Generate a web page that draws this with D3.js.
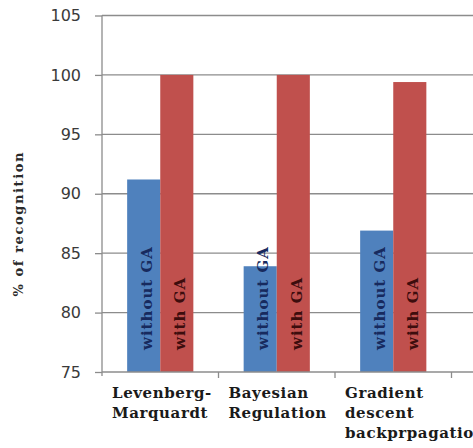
<!DOCTYPE html>
<html>
<head>
<meta charset="utf-8">
<script src="https://cdn.jsdelivr.net/npm/d3@7/dist/d3.min.js"></script>
<style>
  html, body { margin: 0; padding: 0; background: #fff; }
  svg { display: block; }
</style>
</head>
<body>
<svg id="chart" width="473" height="448"></svg>
<script>
// Recognition rate per training algorithm, with and without GA optimisation
const categories = [
  ["Levenberg-", "Marquardt"],
  ["Bayesian", "Regulation"],
  ["Gradient", "descent", "backprpagation"]
];
const seriesNames = ["without GA", "with GA"];
const withoutGA = [91.2, 83.9, 86.9];
const withGA = [100, 100, 99.4];
const yTicks = [75, 80, 85, 90, 95, 100, 105];
const yTitle = "% of recognition";

const W = 473, H = 448;
const margin = { left: 102, top: 15.5, bottom: 76, right: 21.5 };
const plotBottom = H - margin.bottom;

const svg = d3.select("#chart");

const catKeys = categories.map((c, i) => i);
const x = d3.scaleBand()
  .domain(catKeys)
  .range([margin.left, W - margin.right])
  .paddingInner(0).paddingOuter(0);

const xs = d3.scaleBand()
  .domain(seriesNames)
  .range([0, x.bandwidth()])
  .paddingInner(0)
  .paddingOuter(0.76);

const y = d3.scaleLinear()
  .domain([d3.min(yTicks), d3.max(yTicks)])
  .range([plotBottom, margin.top]);

const colors = { "without GA": "#4f81bd", "with GA": "#c0504d" };
const labelColors = { "without GA": "#172a5e", "with GA": "#3d0d0d" };

const gridColor = "#8c8c8c";

// horizontal gridlines running to the right edge
svg.append("g")
  .selectAll("line")
  .data(yTicks.filter(t => t !== d3.min(yTicks)))
  .join("line")
  .attr("x1", margin.left).attr("x2", W)
  .attr("y1", d => y(d)).attr("y2", d => y(d))
  .attr("stroke", gridColor).attr("stroke-width", 1.3);

// y axis
const yAxis = d3.axisLeft(y).tickValues(yTicks).tickSize(7).tickPadding(14);
const gy = svg.append("g")
  .attr("transform", `translate(${margin.left},0)`)
  .call(yAxis);
gy.select(".domain").remove();
gy.selectAll(".tick line").attr("stroke", gridColor).attr("stroke-width", 1.3);
gy.selectAll(".tick text")
  .attr("fill", "#3a3a3a")
  .style("font-family", "'DejaVu Sans', Verdana, sans-serif")
  .style("font-size", "16px");

svg.append("line")
  .attr("x1", margin.left).attr("x2", margin.left)
  .attr("y1", margin.top).attr("y2", plotBottom + 4)
  .attr("stroke", gridColor).attr("stroke-width", 1.3);

// bars
const rows = [];
catKeys.forEach(i => {
  rows.push({ cat: i, s: "without GA", v: withoutGA[i] });
  rows.push({ cat: i, s: "with GA", v: withGA[i] });
});

svg.append("g")
  .selectAll("rect")
  .data(rows)
  .join("rect")
  .attr("x", d => x(d.cat) + xs(d.s))
  .attr("width", xs.bandwidth())
  .attr("y", d => y(d.v))
  .attr("height", d => y(d3.min(yTicks)) - y(d.v))
  .attr("fill", d => colors[d.s]);

// series names written inside the bars, reading upward from the base
svg.append("g")
  .selectAll("text")
  .data(rows)
  .join("text")
  .attr("transform", d => `translate(${x(d.cat) + xs(d.s) + xs.bandwidth() / 2 + 3},${plotBottom - 22}) rotate(-90)`)
  .attr("dy", "0.35em")
  .attr("text-anchor", "start")
  .attr("fill", d => labelColors[d.s])
  .style("font-family", "'DejaVu Serif', serif")
  .style("font-weight", "bold")
  .style("font-size", "15px")
  .style("letter-spacing", "1px")
  .text(d => d.s);

// x axis baseline and category separators
svg.append("line")
  .attr("x1", margin.left).attr("x2", W)
  .attr("y1", plotBottom).attr("y2", plotBottom)
  .attr("stroke", gridColor).attr("stroke-width", 1.3);

svg.append("g")
  .selectAll("line")
  .data(catKeys)
  .join("line")
  .attr("x1", d => x(d) + x.bandwidth()).attr("x2", d => x(d) + x.bandwidth())
  .attr("y1", plotBottom).attr("y2", plotBottom + 6)
  .attr("stroke", gridColor).attr("stroke-width", 1.3);

// category labels
const catText = svg.append("g")
  .selectAll("text")
  .data(catKeys)
  .join("text")
  .attr("fill", "#1a1a1a")
  .style("font-family", "'DejaVu Serif', serif")
  .style("font-weight", "bold")
  .style("font-size", "15px")
  .style("letter-spacing", "0.6px");

catText.each(function (i) {
  const t = d3.select(this);
  categories[i].forEach((line, k) => {
    t.append("tspan")
      .attr("x", x(i) + 10)
      .attr("y", plotBottom + 26 + k * 20)
      .text(line);
  });
});

// y axis title
svg.append("text")
  .attr("transform", `translate(18,${(margin.top + plotBottom) / 2 + 30}) rotate(-90)`)
  .attr("dy", "0.35em")
  .attr("text-anchor", "middle")
  .attr("fill", "#2a2a2a")
  .style("font-family", "'DejaVu Serif', serif")
  .style("font-weight", "bold")
  .style("font-size", "13px")
  .style("letter-spacing", "1.6px")
  .text(yTitle);
</script>
</body>
</html>
